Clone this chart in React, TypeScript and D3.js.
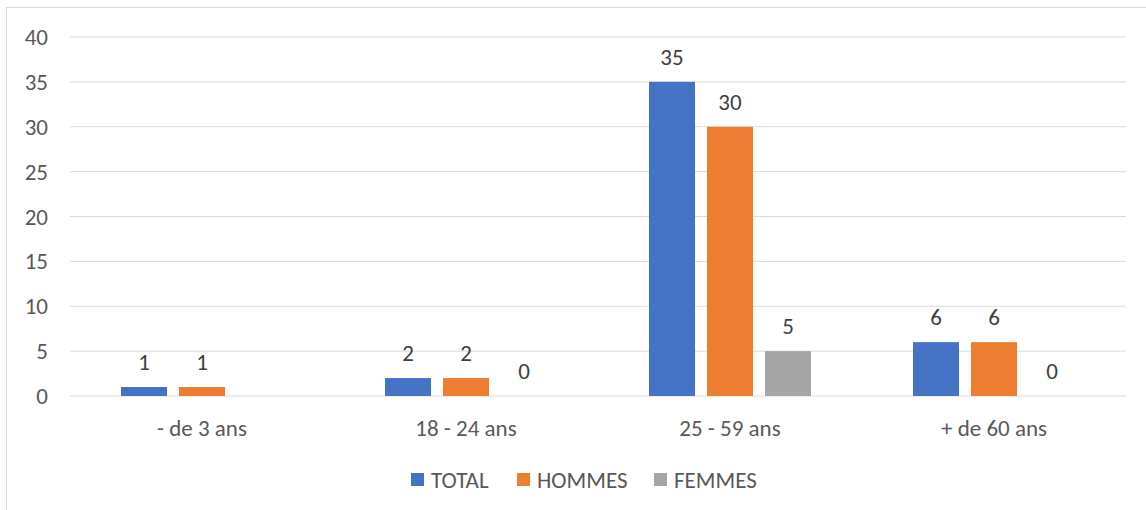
import React from "react";
import * as d3 from "d3";

const categories = ["- de 3 ans", "18 - 24 ans", "25 - 59 ans", "+ de 60 ans"];
const seriesNames = ["TOTAL", "HOMMES", "FEMMES"];
const totalValues: (number | null)[] = [1, 2, 35, 6];
const hommesValues: (number | null)[] = [1, 2, 30, 6];
const femmesValues: (number | null)[] = [null, 0, 5, 0];
const yTicks = [0, 5, 10, 15, 20, 25, 30, 35, 40];
const colors = ["#4472C4", "#ED7D31", "#A5A5A5"];

const W = 1146;
const H = 510;
const font = "Carlito, Calibri, 'Open Sans', 'Noto Sans', sans-serif";
const fs = 23;

export default function App() {
  const series = [totalValues, hommesValues, femmesValues];
  const left = 70;
  const right = 1126;
  const top = 37;
  const bottom = 396;
  const x = d3.scaleBand<string>().domain(categories).range([left, right]).paddingInner(0).paddingOuter(0);
  const y = d3.scaleLinear().domain([0, 40]).range([bottom, top]);
  const barW = 46;
  const gap = 12;
  const groupW = barW * 3 + gap * 2;

  const legendX = [411, 517, 654];

  return (
    <svg width={W} height={H} style={{ position: "absolute", left: 0, top: 0, background: "#fff" }}>
      <rect x={6.5} y={7.5} width={W + 10} height={H + 10} fill="#fff" stroke="#d9d9d9" strokeWidth={1} />
      {yTicks.map((t) => (
        <g key={t}>
          <line x1={left} x2={right} y1={y(t)} y2={y(t)} stroke="#d9d9d9" strokeWidth={1} />
          <text x={48} y={y(t)} dy="0.35em" textAnchor="end" fontFamily={font} fontSize={fs} fill="#595959">
            {t}
          </text>
        </g>
      ))}
      {categories.map((c, ci) => {
        const cx = (x(c) as number) + x.bandwidth() / 2;
        const gx = cx - groupW / 2;
        return (
          <g key={c}>
            {series.map((s, si) => {
              const v = s[ci];
              if (v === null) return null;
              const bx = gx + si * (barW + gap);
              return (
                <g key={si}>
                  {v > 0 && (
                    <rect x={bx} y={y(v)} width={barW} height={y(0) - y(v)} fill={colors[si]} />
                  )}
                  <text
                    x={bx + barW / 2}
                    y={y(v) - 17}
                    textAnchor="middle"
                    fontFamily={font}
                    fontSize={fs}
                    fill="#404040"
                  >
                    {v}
                  </text>
                </g>
              );
            })}
            <text x={cx} y={436} textAnchor="middle" fontFamily={font} fontSize={fs} fill="#595959">
              {c}
            </text>
          </g>
        );
      })}
      {seriesNames.map((n, i) => (
        <g key={n}>
          <rect x={legendX[i]} y={473} width={13} height={13} fill={colors[i]} />
          <text x={legendX[i] + 20} y={488} fontFamily={font} fontSize={fs} fill="#595959">
            {n}
          </text>
        </g>
      ))}
    </svg>
  );
}
